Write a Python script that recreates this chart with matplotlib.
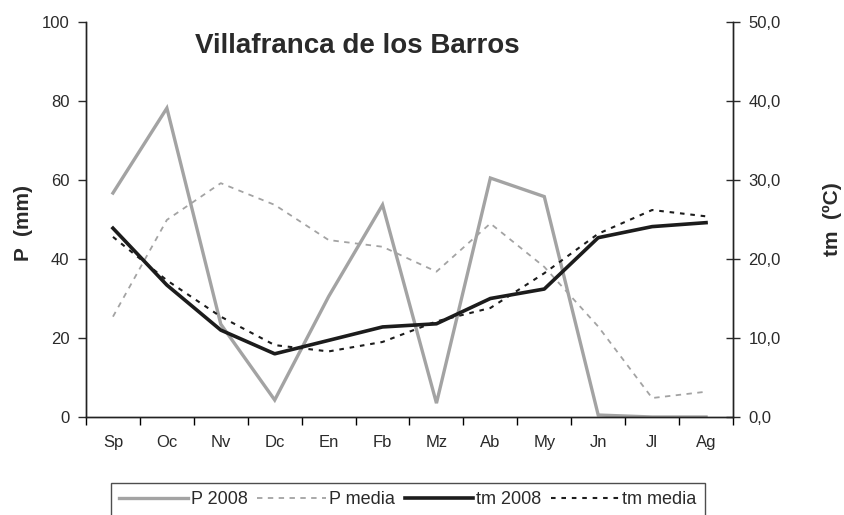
import matplotlib
matplotlib.use("Agg")
import matplotlib.pyplot as plt
import numpy as np

months = ["Sp", "Oc", "Nv", "Dc", "En", "Fb", "Mz", "Ab", "My", "Jn", "Jl", "Ag"]
p_2008 = [56.7, 78.2, 23.5, 4.3, 30.5, 53.7, 3.5, 60.5, 55.8, 0.5, 0.0, 0.0]
p_media = [25.4, 49.9, 59.2, 53.7, 44.8, 43.1, 36.8, 49.0, 38.0, 22.9, 4.8, 6.4]
tm_2008 = [23.9, 16.7, 11.0, 8.0, 9.7, 11.4, 11.8, 15.0, 16.2, 22.7, 24.1, 24.6]
tm_media = [22.8, 17.3, 12.7, 9.1, 8.3, 9.5, 12.1, 13.8, 18.2, 23.2, 26.2, 25.4]
p_ticks = [0, 20, 40, 60, 80, 100]
tm_ticks = [0, 10, 20, 30, 40, 50]

plt.rcParams['font.family'] = ['Liberation Sans', 'DejaVu Sans']
fig = plt.figure(figsize=(8.44, 5.15), dpi=100)
ax = fig.add_axes([86/844, 1-417/515, (733-86)/844, (417-22)/515])
ax2 = ax.twinx()

x = np.arange(len(months))
gray = "#a3a3a3"
black = "#1c1c1c"
txt = '#2a2a2a'
l1, = ax.plot(x, p_2008, color=gray, lw=2.4, solid_joinstyle='miter', label="P 2008")
l2, = ax.plot(x, p_media, color=gray, lw=1.3, dashes=(3, 3), label="P media")
l3, = ax2.plot(x, tm_2008, color=black, lw=2.6, label="tm 2008")
l4, = ax2.plot(x, tm_media, color=black, lw=1.5, dashes=(2.2, 2.8), label="tm media")

ax.set_xlim(-0.5, 11.5)
ax.set_ylim(0, 100)
ax2.set_ylim(0, 50)
ax.set_yticks(p_ticks)
ax.set_yticklabels([str(v) for v in p_ticks])
ax2.set_yticks(tm_ticks)
ax2.set_yticklabels([f"{v:.1f}".replace(".", ",") for v in tm_ticks])
ax.set_xticks(x)
ax.set_xticklabels(months)
ax.set_xticks(np.arange(-0.5, 12, 1), minor=True)
ax.tick_params(axis='x', which='major', length=0, pad=13, labelsize=12, colors=txt)
ax.tick_params(axis='x', which='minor', length=6, width=1, direction='out')
ax.tick_params(axis='y', length=6, width=1, direction='out', labelsize=12, colors=txt, pad=6)
ax2.tick_params(axis='y', length=10, width=1, direction='inout', labelsize=12, colors=txt, pad=6)
for a in (ax, ax2):
    a.spines['top'].set_visible(False)
    for s in a.spines.values():
        s.set_linewidth(1.0)
        s.set_color('#222222')
ax.set_ylabel("P  (mm)", fontsize=15, fontweight='bold', color=txt)
ax.yaxis.set_label_coords(-0.082, 0.49)
ax2.set_ylabel("tm  (ºC)", fontsize=15, fontweight='bold', color=txt)
ax2.yaxis.set_label_coords(1.139, 0.50)
ax.set_title("Villafranca de los Barros", fontsize=20, fontweight='bold', color=txt, y=0.90, x=0.42)

leg = fig.legend(handles=[l1, l2, l3, l4], loc='upper center', bbox_to_anchor=(408/844, 1-483/515),
                 ncol=4, frameon=True, fancybox=False, edgecolor='#222222', fontsize=13,
                 handlelength=3.8, handletextpad=0.15, columnspacing=0.55, borderpad=0.45,
                 borderaxespad=0)
leg.get_frame().set_linewidth(1.0)
for t in leg.get_texts():
    t.set_color(txt)

fig.savefig("out.png", dpi=100)
